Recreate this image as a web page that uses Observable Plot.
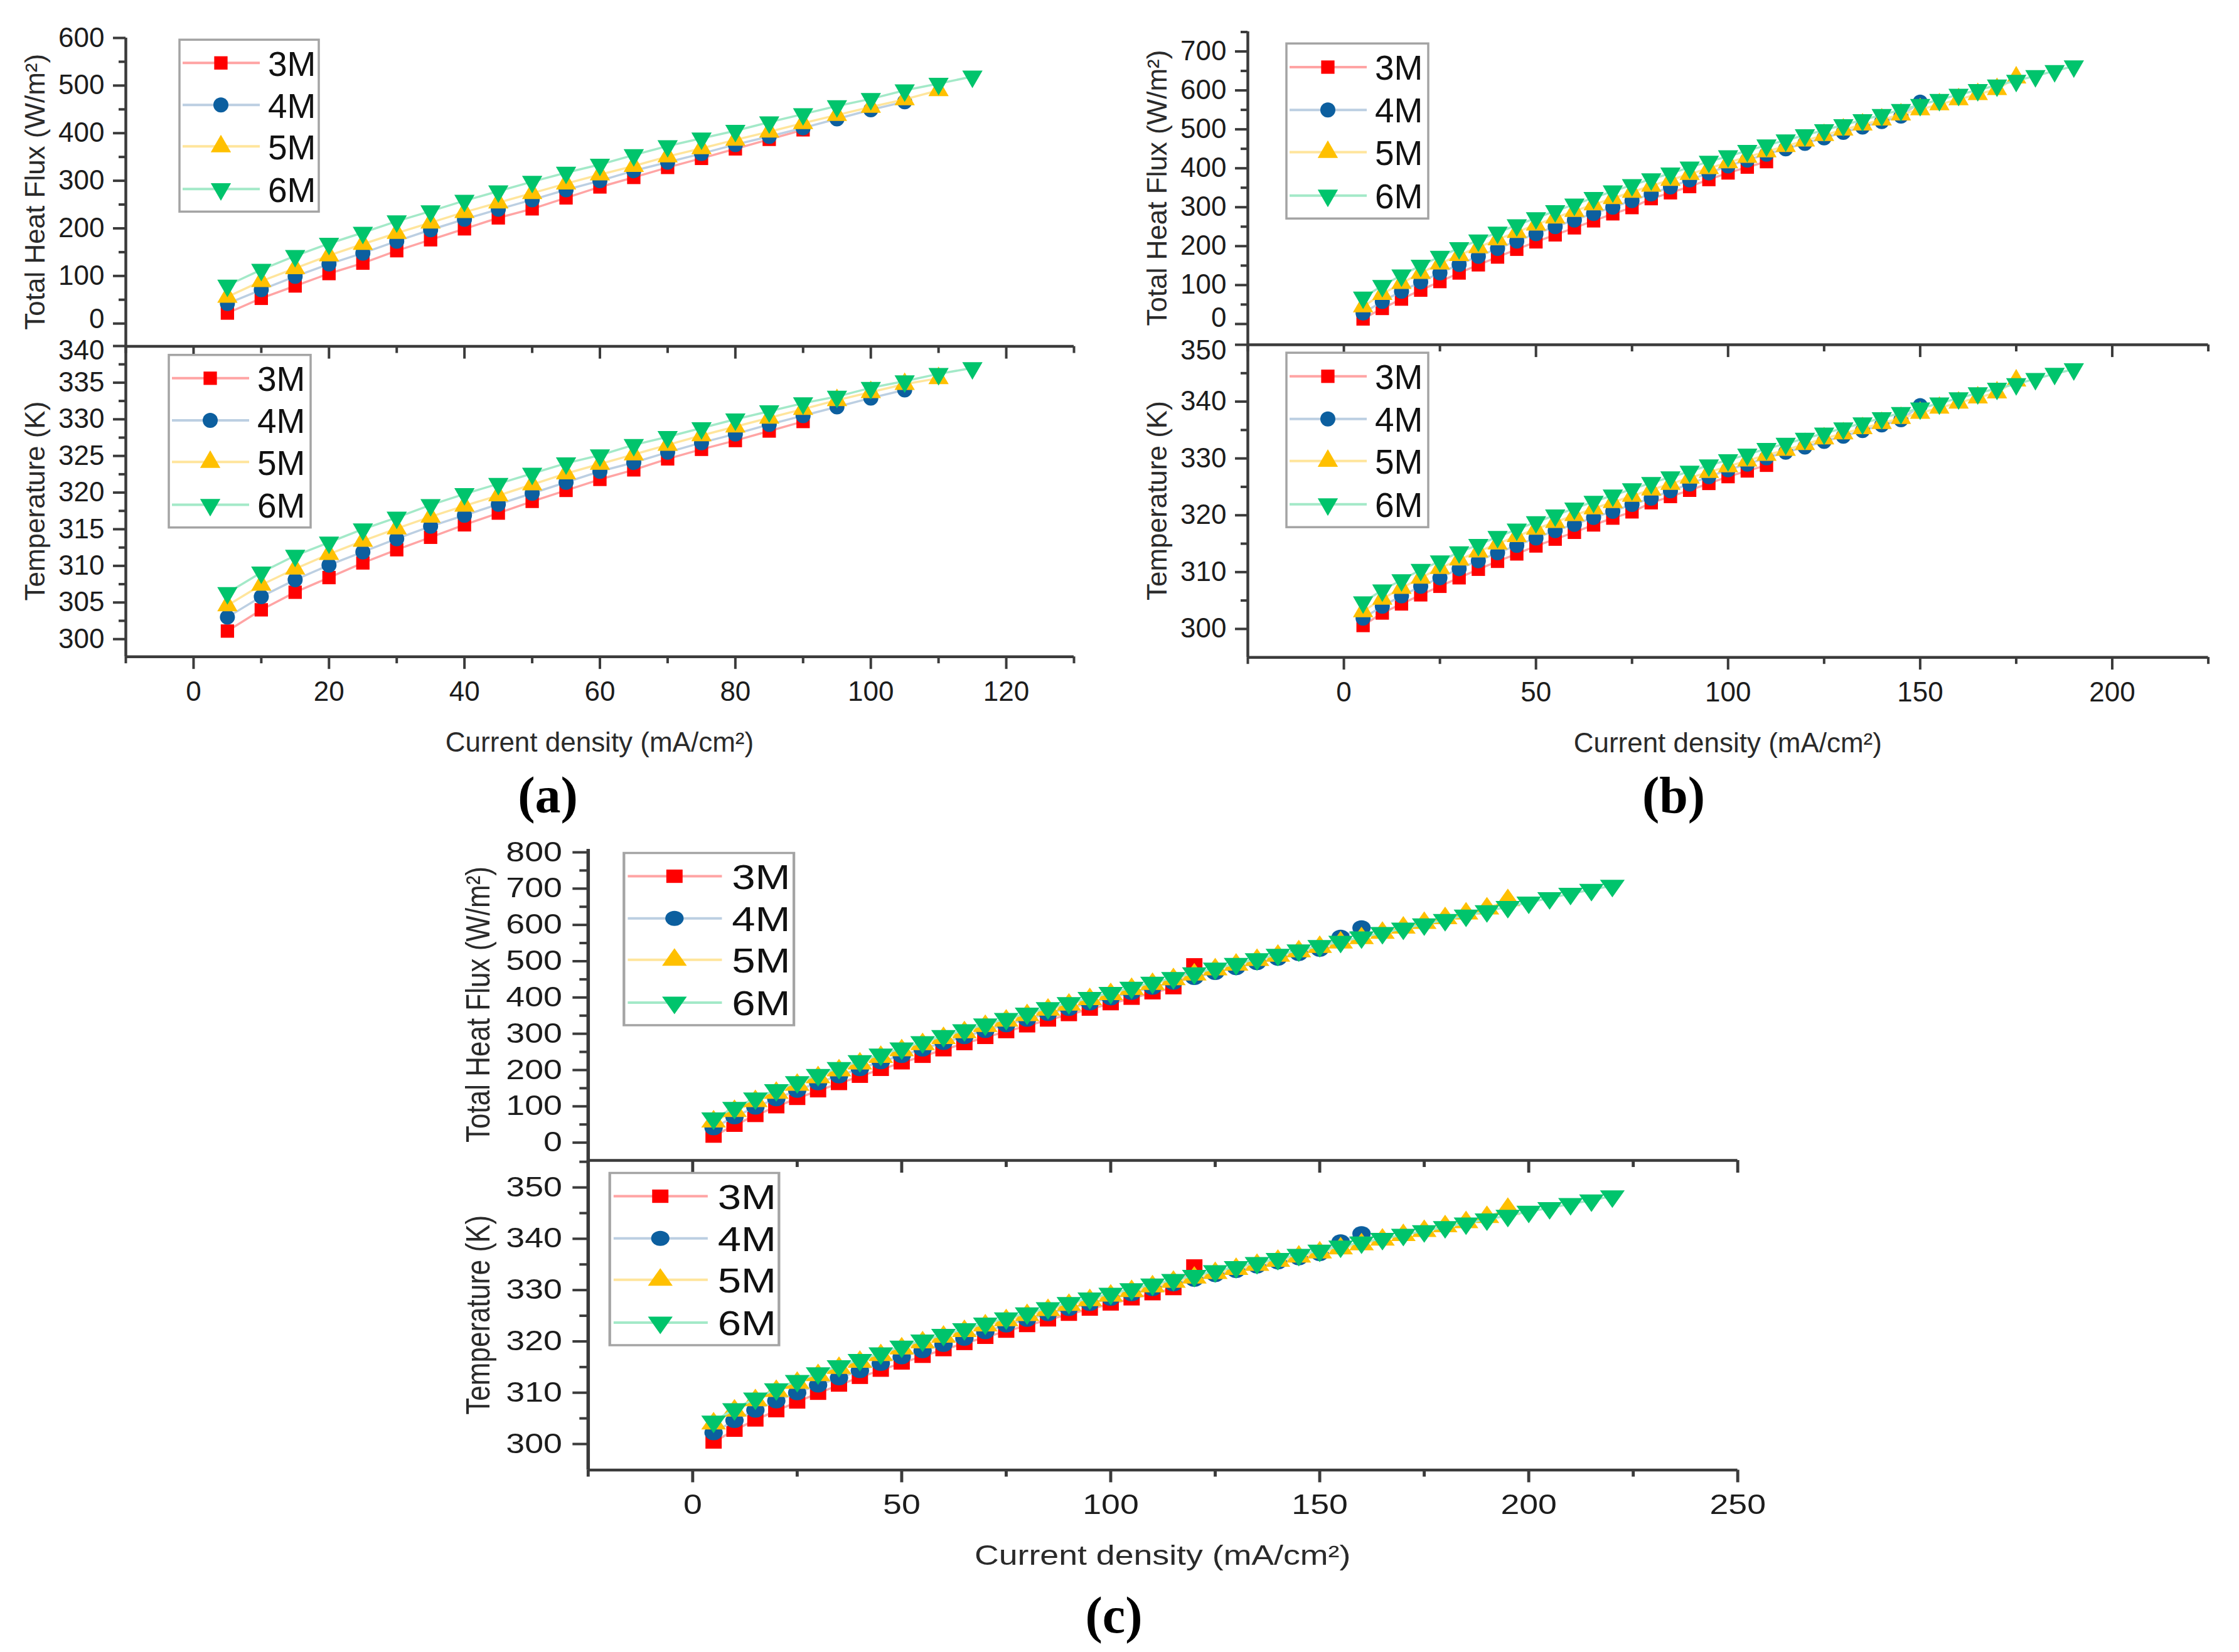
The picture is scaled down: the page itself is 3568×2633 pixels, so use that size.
<!DOCTYPE html>
<html>
<head>
<meta charset="utf-8">
<script src="https://cdn.jsdelivr.net/npm/d3@7"></script>
<script src="https://cdn.jsdelivr.net/npm/@observablehq/plot@0.6"></script>
<style>
html, body { margin: 0; padding: 0; background: #ffffff; }
#page { position: relative; width: 3568px; height: 2633px; background: #ffffff; overflow: hidden; }
.host { position: absolute; left: 0; top: 0; }
.plabel { position: absolute; font-family: "Liberation Serif", "Times New Roman", serif; font-weight: bold; font-size: 82px; color: #000; transform: translate(-50%, -50%); white-space: nowrap; line-height: 1; }
</style>
</head>
<body>
<div id="page"></div>
<script>
// ---------------- DATA ----------------
const concentrations = ["3M", "4M", "5M", "6M"];

// Panel (a)
const current_a = [5,10,15,20,25,30,35,40,45,50,55,60,65,70,75,80,85,90,95,100,105,110,115];
const flux_a_3M = [22,53,79,105,127,153,176,199,222,241,264,287,307,328,347,367,387,407];
const flux_a_4M = [42,71,99,125,148,173,197,219,240,260,281,300,321,339,357,376,393,411,430,449,466];
const flux_a_5M = [56,89,116,143,167,190,212,234,254,274,294,313,331,351,368,386,403,421,438,455,471,490];
const flux_a_6M = [80,113,142,168,191,215,236,258,278,298,317,334,354,373,389,405,423,440,457,472,490,504,519];
const temp_a_3M = [301.1,304.0,306.4,308.4,310.4,312.2,313.9,315.6,317.2,318.8,320.3,321.8,323.1,324.6,325.9,327.1,328.4,329.7];
const temp_a_4M = [303.0,305.8,308.1,310.1,311.9,313.7,315.4,316.9,318.4,319.9,321.4,322.9,324.1,325.5,326.8,328.0,329.3,330.5,331.7,332.9,334.0];
const temp_a_5M = [304.6,307.4,309.6,311.6,313.4,315.1,316.7,318.2,319.6,321.1,322.6,323.9,325.2,326.5,327.8,329.0,330.2,331.4,332.6,333.7,334.8,335.6];
const temp_a_6M = [306.3,309.1,311.4,313.2,315.0,316.6,318.3,319.8,321.2,322.6,324.0,325.1,326.5,327.6,328.8,330.0,331.1,332.2,333.1,334.3,335.2,336.2,337.0];

// Panel (b)
const current_b = [5,10,15,20,25,30,35,40,45,50,55,60,65,70,75,80,85,90,95,100,105,110,115,120,125,130,135,140,145,150,155,160,165,170,175,180,185,190];
const flux_b_3M = [13,40,64,87,109,131,152,172,192,211,229,247,265,283,299,322,337,353,371,388,403,417];
const flux_b_4M = [28,58,84,108,131,153,174,194,213,232,250,267,284,300,317,334,352,370,388,406,421,436,450,464,478,492,506,520,534,570];
const flux_b_5M = [45,77,105,131,155,177,197,217,236,255,273,290,307,323,339,355,370,385,400,415,429,443,457,471,485,499,512,525,538,551,564,577,590,603,633];
const flux_b_6M = [68,98,125,150,173,195,215,235,254,272,290,307,324,341,357,372,387,402,417,431,445,459,472,485,498,511,524,537,550,563,576,589,601,613,625,637,650,662];
const temp_b_3M = [300.6,302.8,304.4,306.0,307.5,309.0,310.5,311.9,313.2,314.6,315.8,317.0,318.3,319.5,320.6,322.2,323.3,324.4,325.6,326.8,327.8,328.8];
const temp_b_4M = [301.9,304.0,305.8,307.5,309.0,310.6,312.0,313.4,314.7,316.0,317.3,318.4,319.6,320.7,321.9,323.0,324.3,325.5,326.8,328.0,329.0,330.1,331.1,332.0,333.0,333.9,334.9,335.9,336.8,339.3];
const temp_b_5M = [303.1,305.3,307.2,309.0,310.7,312.2,313.6,315.0,316.3,317.6,318.8,320.0,321.2,322.3,323.4,324.5,325.5,326.6,327.6,328.6,329.6,330.6,331.5,332.5,333.5,334.4,335.3,336.2,337.1,338.0,338.9,339.8,340.7,341.6,343.7];
const temp_b_6M = [304.7,306.8,308.6,310.4,311.9,313.5,314.8,316.2,317.5,318.8,320.0,321.2,322.4,323.5,324.6,325.7,326.7,327.7,328.8,329.7,330.7,331.7,332.6,333.5,334.4,335.3,336.2,337.1,338.0,338.8,339.7,340.6,341.5,342.3,343.1,344.0,344.9,345.7];

// Panel (c)
const current_c = [5,10,15,20,25,30,35,40,45,50,55,60,65,70,75,80,85,90,95,100,105,110,115,120,125,130,135,140,145,150,155,160,165,170,175,180,185,190,195,200,205,210,215,220];
const flux_c_3M = [18,48,75,99,122,143,163,183,202,220,238,256,273,290,306,322,338,353,368,383,398,413,427,490];
const flux_c_4M = [41,71,98,121,144,165,184,204,223,240,258,276,292,309,325,340,356,370,385,399,414,428,442,455,469,482,496,508,521,533,566,592];
const flux_c_5M = [58,87,114,137,159,180,199,218,236,254,271,288,304,321,336,351,366,380,395,409,423,437,450,463,477,490,503,515,527,539,551,563,578,592,605,618,631,645,668];
const flux_c_6M = [67,96,122,145,167,187,206,225,243,260,277,294,310,326,341,356,371,385,399,413,427,441,454,467,480,493,506,518,530,542,554,566,578,590,602,614,626,638,650,662,674,686,697,708];
const temp_c_3M = [300.4,302.7,304.7,306.5,308.2,309.9,311.5,313.0,314.4,315.8,317.1,318.4,319.6,320.8,322.0,323.1,324.2,325.3,326.3,327.3,328.3,329.3,330.3,334.7];
const temp_c_4M = [302.2,304.6,306.6,308.4,310.0,311.5,312.9,314.3,315.7,317.0,318.2,319.4,320.6,321.9,323.2,324.3,325.4,326.4,327.4,328.4,329.3,330.3,331.2,332.1,333.0,333.8,334.7,335.5,336.3,337.1,339.4,341.0];
const temp_c_5M = [304.0,306.5,308.5,310.3,311.9,313.4,314.8,316.0,317.3,318.6,319.8,320.9,322.0,323.1,324.1,325.1,326.1,327.1,328.0,328.9,329.8,330.7,331.6,332.4,333.3,334.1,334.9,335.7,336.5,337.3,338.1,338.9,339.8,340.7,341.5,342.4,343.2,344.2,345.8];
const temp_c_6M = [304.4,306.8,308.9,310.7,312.3,313.8,315.2,316.4,317.7,319.0,320.2,321.3,322.4,323.5,324.5,325.5,326.5,327.5,328.4,329.3,330.2,331.1,332.0,332.8,333.7,334.5,335.3,336.1,336.9,337.7,338.5,339.3,340.0,340.8,341.5,342.3,343.0,343.8,344.5,345.3,346.0,346.8,347.5,348.3];

// Tick values
const ticks_a_x = [0,20,40,60,80,100,120];
const minor_a_x = [-10,10,30,50,70,90,110,130];
const ticks_a_flux = [0,100,200,300,400,500,600];
const minor_a_flux = [50,150,250,350,450,550];
const ticks_a_temp = [300,305,310,315,320,325,330,335,340];
const minor_a_temp = [302.5,307.5,312.5,317.5,322.5,327.5,332.5,337.5];

const ticks_b_x = [0,50,100,150,200];
const minor_b_x = [-25,25,75,125,175,225];
const ticks_b_flux = [0,100,200,300,400,500,600,700];
const minor_b_flux = [50,150,250,350,450,550,650,750];
const ticks_b_temp = [300,310,320,330,340,350];
const minor_b_temp = [305,315,325,335,345];

const ticks_c_x = [0,50,100,150,200,250];
const minor_c_x = [-25,25,75,125,175,225];
const ticks_c_flux = [0,100,200,300,400,500,600,700,800];
const minor_c_flux = [50,150,250,350,450,550,650,750];
const ticks_c_temp = [300,310,320,330,340,350];
const minor_c_temp = [305,315,325,335,345,355];

const fluxTitle = "Total Heat Flux (W/m²)";
const tempTitle = "Temperature (K)";
const xTitle = "Current density (mA/cm²)";
const panelLabels = ["(a)", "(b)", "(c)"];

// ---------------- STYLE ----------------
const FONT = '"Liberation Sans", Arial, Helvetica, sans-serif';
const AX = "#3b3b3b";
const TXT = "#1c1c1c";
const triangleDown = {
  draw(context, size) {
    const y = -Math.sqrt(size / (Math.sqrt(3) * 3));
    context.moveTo(0, -y * 2);
    context.lineTo(-Math.sqrt(3) * y, y);
    context.lineTo(Math.sqrt(3) * y, y);
    context.closePath();
  }
};
const STYLE = [
  {line: "#ffa4a4", fill: "#ff0000", symbol: d3.symbolSquare},
  {line: "#bccfe2", fill: "#0c5f9f", symbol: d3.symbolCircle},
  {line: "#ffe59c", fill: "#ffc000", symbol: d3.symbolTriangle},
  {line: "#a3e9c8", fill: "#00c46c", symbol: triangleDown}
];
const R = 12;

function addText(sel, x, y, str, opts = {}) {
  const t = sel.append("text")
    .attr("x", x).attr("y", y)
    .attr("font-family", opts.family || FONT)
    .attr("font-size", opts.size || 44)
    .attr("fill", opts.fill || TXT)
    .attr("text-anchor", opts.anchor || "middle")
    .attr("dy", "0.35em")
    .text(str);
  if (opts.rotate) t.attr("transform", `rotate(${opts.rotate},${x},${y})`);
  return t;
}

function drawLegend(svg, ox, oy, box) {
  const g = d3.select(svg).append("g");
  const bx = box[0] - ox, by = box[1] - oy, bw = box[2], bh = box[3];
  g.append("rect").attr("x", bx).attr("y", by).attr("width", bw).attr("height", bh)
    .attr("fill", "#ffffff").attr("stroke", "#a4a4a4").attr("stroke-width", 3.5);
  const rows = [37, 104, 170, 238];
  concentrations.forEach((name, k) => {
    const cy = by + rows[k] * bh / 274;
    const st = STYLE[k];
    g.append("line").attr("x1", bx + 5).attr("x2", bx + 128).attr("y1", cy).attr("y2", cy)
      .attr("stroke", st.line).attr("stroke-width", 4);
    g.append("path").attr("d", d3.symbol(st.symbol, Math.PI * R * R)())
      .attr("transform", `translate(${bx + 66},${cy})`).attr("fill", st.fill);
    addText(g, bx + 141, cy + 1, name, {size: 55, anchor: "start", fill: "#111"});
  });
}

function subplot(host, cfg) {
  const ML = 230, MR = 40, MT = 40;
  const MB = cfg.bottom ? 190 : 40;
  const W = cfg.fx1 - cfg.fx0 + ML + MR;
  const H = cfg.fy1 - cfg.fy0 + MT + MB;
  const marks = [];
  cfg.series.forEach((vals, k) => {
    const st = STYLE[k];
    const data = vals.map((v, i) => ({x: cfg.current[i], y: v}));
    marks.push(Plot.line(data, {x: "x", y: "y", stroke: st.line, strokeWidth: 3.5}));
    marks.push(Plot.dot(data, {x: "x", y: "y", r: R, symbol: st.symbol, fill: st.fill}));
  });
  // y tick labels: edge labels nudged apart where two stacked panels meet
  const lo = cfg.yMajor[0], hi = cfg.yMajor[cfg.yMajor.length - 1];
  const mid = cfg.yMajor.filter(v => !(v === lo && cfg.shiftLow) && !(v === hi && cfg.shiftHigh));
  const labelOpts = {x: cfg.xDomain[0], y: d => d, text: d => String(d), dx: -34, textAnchor: "end", fontSize: 44, fill: TXT};
  marks.push(Plot.text(mid, labelOpts));
  if (cfg.shiftLow) marks.push(Plot.text([lo], {...labelOpts, dy: cfg.shiftLow}));
  if (cfg.shiftHigh) marks.push(Plot.text([hi], {...labelOpts, dy: cfg.shiftHigh}));
  marks.push(
    Plot.axisY(cfg.yMajor, {anchor: "left", tickSize: 20, strokeWidth: 4, stroke: AX, fill: TXT, label: null, tickFormat: () => ""}),
    Plot.axisY(cfg.yMinor, {anchor: "left", tickSize: 11, strokeWidth: 4, stroke: AX, fill: TXT, label: null, tickFormat: () => ""}),
    Plot.axisX(cfg.xMajor, {anchor: "bottom", tickSize: 20, tickPadding: 19, strokeWidth: 4, stroke: AX, fill: TXT, fontSize: 44, label: null, tickFormat: cfg.bottom ? (d => String(d)) : (() => "")}),
    Plot.axisX(cfg.xMinor, {anchor: "bottom", tickSize: 11, strokeWidth: 4, stroke: AX, fill: TXT, label: null, tickFormat: () => ""}),
    Plot.ruleX([cfg.xDomain[0]], {stroke: AX, strokeWidth: 4.5}),
    Plot.ruleY([cfg.yDomain[0]], {stroke: AX, strokeWidth: 4.5})
  );
  const svg = Plot.plot({
    width: W, height: H,
    marginLeft: ML, marginRight: MR, marginTop: MT, marginBottom: MB,
    x: {domain: cfg.xDomain, label: null},
    y: {domain: cfg.yDomain, label: null},
    style: {fontFamily: FONT, fontSize: "44px", color: TXT, background: "transparent", overflow: "visible"},
    marks
  });
  const ox = cfg.fx0 - ML, oy = cfg.fy0 - MT;
  svg.style.position = "absolute";
  svg.style.left = ox + "px";
  svg.style.top = oy + "px";
  svg.style.maxWidth = "none";
  svg.style.overflow = "visible";
  host.appendChild(svg);
  const s = d3.select(svg);
  addText(s, cfg.fx0 - 144 - ox, (cfg.fy0 + cfg.fy1) / 2 - oy, cfg.yTitle, {size: 44, rotate: -90, fill: "#2a2a2a"});
  if (cfg.bottom) addText(s, (cfg.fx0 + cfg.fx1) / 2 - ox, cfg.fy1 + 136 - oy, xTitle, {size: 44, fill: "#2a2a2a"});
  drawLegend(svg, ox, oy, cfg.legend);
}

// ---------------- LAYOUT ----------------
const page = document.getElementById("page");

function makeHost(left, scaleX) {
  const h = document.createElement("div");
  h.className = "host";
  h.style.left = left + "px";
  h.style.width = ((3568 - left) / scaleX) + "px";
  h.style.height = "2633px";
  h.style.transformOrigin = "0 0";
  h.style.transform = `scaleX(${scaleX})`;
  page.appendChild(h);
  return h;
}

const hostAB = makeHost(0, 1);
// Panel (a)
subplot(hostAB, {fx0: 200, fx1: 1711, fy0: 59.7, fy1: 551.3, xDomain: [-10, 130], yDomain: [-48, 600],
  current: current_a, series: [flux_a_3M, flux_a_4M, flux_a_5M, flux_a_6M],
  yMajor: ticks_a_flux, yMinor: minor_a_flux, xMajor: ticks_a_x, xMinor: minor_a_x,
  bottom: false, yTitle: fluxTitle, legend: [286, 63, 222, 274], shiftLow: -7});
subplot(hostAB, {fx0: 200, fx1: 1711, fy0: 551.3, fy1: 1046.5, xDomain: [-10, 130], yDomain: [297.6, 340],
  current: current_a, series: [temp_a_3M, temp_a_4M, temp_a_5M, temp_a_6M],
  yMajor: ticks_a_temp, yMinor: minor_a_temp, xMajor: ticks_a_x, xMinor: minor_a_x,
  bottom: true, yTitle: tempTitle, legend: [269, 566, 226, 275], shiftHigh: 7});
// Panel (b)
subplot(hostAB, {fx0: 1988, fx1: 3518.6, fy0: 49.7, fy1: 548.8, xDomain: [-25, 225], yDomain: [-53.5, 750.8],
  current: current_b, series: [flux_b_3M, flux_b_4M, flux_b_5M, flux_b_6M],
  yMajor: ticks_b_flux, yMinor: minor_b_flux, xMajor: ticks_b_x, xMinor: minor_b_x,
  bottom: false, yTitle: fluxTitle, legend: [2050, 69, 226, 279], shiftLow: -9});
subplot(hostAB, {fx0: 1988, fx1: 3518.6, fy0: 548.8, fy1: 1047, xDomain: [-25, 225], yDomain: [295, 350],
  current: current_b, series: [temp_b_3M, temp_b_4M, temp_b_5M, temp_b_6M],
  yMajor: ticks_b_temp, yMinor: minor_b_temp, xMajor: ticks_b_x, xMinor: minor_b_x,
  bottom: true, yTitle: tempTitle, legend: [2050, 562, 226, 278], shiftHigh: 9});
// Panel (c) (horizontally stretched like the reference)
const hostC = makeHost(700, 1.22);
subplot(hostC, {fx0: 194.3, fx1: 1695.9, fy0: 1353, fy1: 1849, xDomain: [-25, 250], yDomain: [-49, 808.6],
  current: current_c, series: [flux_c_3M, flux_c_4M, flux_c_5M, flux_c_6M],
  yMajor: ticks_c_flux, yMinor: minor_c_flux, xMajor: ticks_c_x, xMinor: minor_c_x,
  bottom: false, yTitle: fluxTitle, legend: [241.5, 1359.5, 222, 274.5]});
subplot(hostC, {fx0: 194.3, fx1: 1695.9, fy0: 1849, fy1: 2342.5, xDomain: [-25, 250], yDomain: [294.93, 355.27],
  current: current_c, series: [temp_c_3M, temp_c_4M, temp_c_5M, temp_c_6M],
  yMajor: ticks_c_temp, yMinor: minor_c_temp, xMajor: ticks_c_x, xMinor: minor_c_x,
  bottom: true, yTitle: tempTitle, legend: [223, 1869.5, 221, 274.5]});

// Panel labels
[[873, 1268], [2667, 1268], [1775, 2575]].forEach((p, i) => {
  const d = document.createElement("div");
  d.className = "plabel";
  d.style.left = p[0] + "px";
  d.style.top = p[1] + "px";
  d.textContent = panelLabels[i];
  page.appendChild(d);
});
</script>
</body>
</html>
